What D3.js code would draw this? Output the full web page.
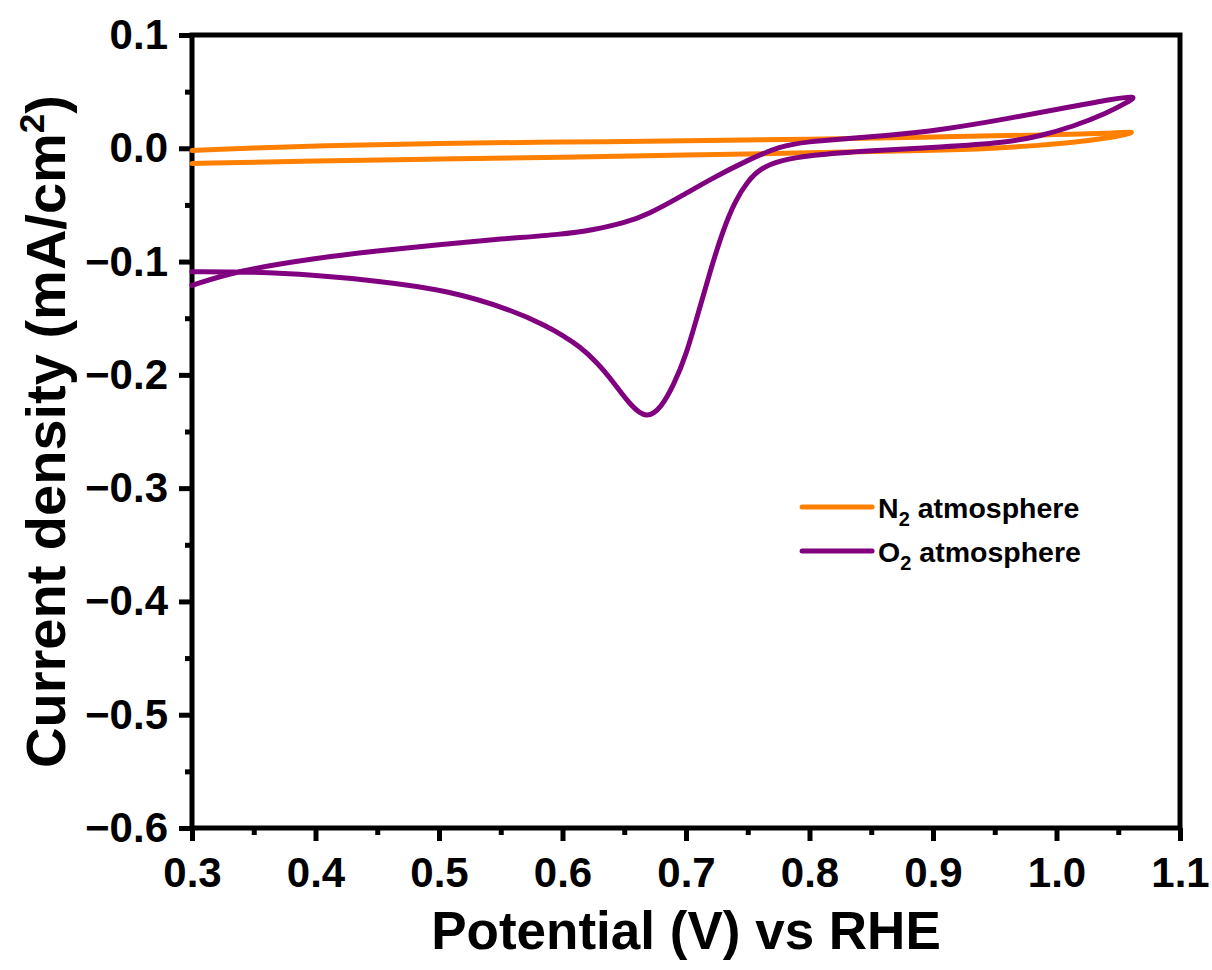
<!DOCTYPE html>
<html lang="en">
  <head>
    <meta charset="UTF-8" />
    <title>CV N2 vs O2</title>
    <style>
      body { margin: 0; background: #fff; }
      svg text { font-family: "Liberation Sans", Arial, sans-serif; font-weight: bold; fill: #000; }
      .line { fill: none; stroke-width: 5px; stroke-linejoin: round; stroke-linecap: round; }
    </style>
  </head>
  <body>
    <div id="wrapper"></div>
    <script src="https://d3js.org/d3.v7.min.js"></script>
    <script>
      // N2 atmosphere: anodic branch then cathodic branch back
      const n2Potential = [0.3, 0.35, 0.4, 0.5, 0.6, 0.7, 0.8, 0.9, 1.0, 1.04, 1.066,
                           1.055, 1.041, 1.013, 0.987, 0.95, 0.9, 0.8, 0.7, 0.6, 0.5, 0.4, 0.3];
      const n2Current = [-0.002, 0.0005, 0.002, 0.0045, 0.0055, 0.0065, 0.008, 0.010, 0.012, 0.013, 0.015,
                         0.012, 0.009, 0.005, 0.0026, 0.000, -0.002, -0.004, -0.006, -0.008, -0.0095, -0.011, -0.0135];

      // O2 atmosphere: anodic branch up to the vertex, then cathodic branch with the ORR peak
      const o2Potential = [0.3, 0.337, 0.4, 0.45, 0.5, 0.55, 0.6, 0.625, 0.65, 0.67, 0.695, 0.722, 0.749, 0.776,
                           0.8, 0.825, 0.86, 0.906, 0.96, 1.013, 1.045, 1.066,
                           1.058, 1.041, 1.013, 0.987, 0.96, 0.906, 0.85, 0.80, 0.775, 0.76, 0.75, 0.74, 0.73,
                           0.72, 0.71, 0.70, 0.69, 0.68, 0.668, 0.655, 0.641, 0.628, 0.614, 0.60,
                           0.587, 0.56, 0.506, 0.45, 0.40, 0.35, 0.3];
      const o2Current = [-0.121, -0.108, -0.097, -0.0905, -0.085, -0.080, -0.076, -0.072, -0.066, -0.058, -0.043, -0.026, -0.011, 0.002,
                         0.006, 0.008, 0.011, 0.016, 0.026, 0.037, 0.0435, 0.0465,
                         0.041, 0.031, 0.019, 0.011, 0.005, 0.001, -0.002, -0.006, -0.011, -0.018, -0.029, -0.046, -0.072,
                         -0.107, -0.145, -0.183, -0.209, -0.229, -0.239, -0.227, -0.206, -0.189, -0.175, -0.165,
                         -0.157, -0.143, -0.125, -0.117, -0.112, -0.109, -0.109];

      const seriesNames = ["N2 atmosphere", "O2 atmosphere"];
      const seriesColors = ["#ff8000", "#800080"];
      const xTicks = [0.3, 0.4, 0.5, 0.6, 0.7, 0.8, 0.9, 1.0, 1.1];
      const yTicks = [0.1, 0.0, -0.1, -0.2, -0.3, -0.4, -0.5, -0.6];

      var margin = {top: 35, right: 32, bottom: 142, left: 192},
          width = 1212 - margin.left - margin.right,
          height = 970 - margin.top - margin.bottom;

      var x = d3.scaleLinear().domain([0.3, 1.1]).range([0, width]);
      var y = d3.scaleLinear().domain([-0.6, 0.1]).range([height, 0]);

      var svg = d3.select("#wrapper").append("svg")
          .attr("width", 1212)
          .attr("height", 970)
        .append("g")
          .attr("transform", "translate(" + margin.left + "," + margin.top + ")");

      var fmt = function(d) { return d3.format(".1f")(d).replace("-", "\u2212"); };

      // minor ticks (every 0.05)
      var xMinor = d3.range(0.35, 1.1, 0.1);
      var yMinor = d3.range(-0.55, 0.1, 0.1);

      svg.append("g")
          .attr("transform", "translate(0," + height + ")")
          .call(d3.axisBottom(x).tickValues(xMinor).tickSize(7).tickSizeOuter(0).tickFormat(""))
          .call(g => g.select(".domain").remove())
          .selectAll("line").attr("stroke-width", 5);
      svg.append("g")
          .call(d3.axisLeft(y).tickValues(yMinor).tickSize(7).tickSizeOuter(0).tickFormat(""))
          .call(g => g.select(".domain").remove())
          .selectAll("line").attr("stroke-width", 5);

      // Add the X Axis
      var xAxis = svg.append("g")
          .attr("transform", "translate(0," + height + ")")
          .call(d3.axisBottom(x).tickValues(xTicks).tickSize(13).tickSizeOuter(0).tickPadding(16).tickFormat(fmt));
      xAxis.selectAll("line").attr("stroke-width", 5);
      xAxis.selectAll("text").style("font-size", "42px").attr("fill", "#000");

      // Add the Y Axis
      var yAxis = svg.append("g")
          .call(d3.axisLeft(y).tickValues(yTicks).tickSize(13).tickSizeOuter(0).tickPadding(11).tickFormat(fmt));
      yAxis.selectAll("line").attr("stroke-width", 5);
      yAxis.selectAll("text").style("font-size", "42px").attr("fill", "#000");

      // frame
      svg.append("rect")
          .attr("width", width)
          .attr("height", height)
          .attr("fill", "none")
          .attr("stroke", "#000")
          .attr("stroke-width", 5);

      var line = d3.line()
          .x(function(d) { return x(d[0]); })
          .y(function(d) { return y(d[1]); })
          .curve(d3.curveBasis);

      var n2 = d3.zip(n2Potential, n2Current);
      var o2 = d3.zip(o2Potential, o2Current);

      svg.append("path")
          .data([n2])
          .attr("class", "line")
          .style("stroke", seriesColors[0])
          .attr("d", line);

      svg.append("path")
          .data([o2])
          .attr("class", "line")
          .style("stroke", seriesColors[1])
          .attr("d", line);

      // legend
      var legend = svg.append("g").attr("transform", "translate(" + x(0.794) + "," + y(-0.3166) + ")");
      seriesNames.forEach(function(name, i) {
        var row = legend.append("g").attr("transform", "translate(0," + i * 44 + ")");
        row.append("line")
            .attr("x1", 0).attr("x2", 70)
            .attr("stroke", seriesColors[i])
            .attr("stroke-width", 5)
            .attr("stroke-linecap", "round");
        var t = row.append("text").attr("x", 76).attr("y", 11).style("font-size", "28.5px");
        t.append("tspan").text(name.charAt(0));
        t.append("tspan").attr("dy", 8).style("font-size", "20px").text(name.charAt(1));
        t.append("tspan").attr("dy", -8).text(name.slice(2));
      });

      // axis titles
      svg.append("text")
          .attr("x", width / 2)
          .attr("y", height + 121)
          .attr("text-anchor", "middle")
          .style("font-size", "53px")
          .text("Potential (V) vs RHE");

      var yt = svg.append("text")
          .attr("transform", "translate(" + (-127) + "," + (height / 2) + ") rotate(-90)")
          .attr("text-anchor", "middle")
          .style("font-size", "56px");
      yt.append("tspan").text("Current density (mA/cm");
      yt.append("tspan").attr("dy", -21).style("font-size", "35px").text("2");
      yt.append("tspan").attr("dy", 21).text(")");
    </script>
  </body>
</html>
